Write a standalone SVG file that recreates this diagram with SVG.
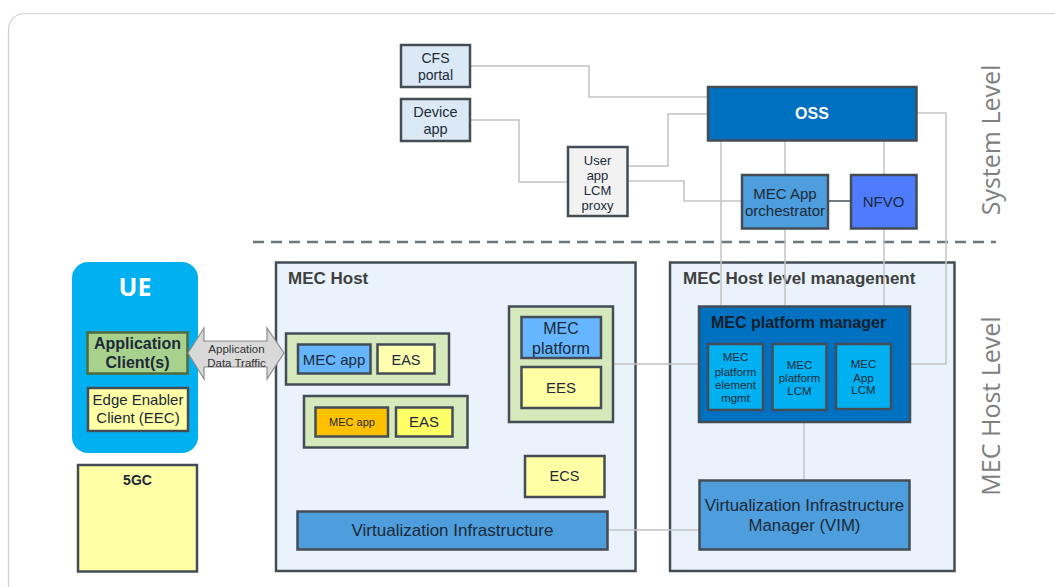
<svg xmlns="http://www.w3.org/2000/svg" width="1055" height="587" viewBox="0 0 1055 587">
<style>
.box{stroke:#444c55;stroke-width:2.5}
.t{font-family:"Liberation Sans",Arial,sans-serif;fill:#1b2a38;text-anchor:middle}
.b{font-weight:bold}
.cn{fill:none;stroke:#c3c3c3;stroke-width:1.5}
.lvl{font-family:"Open Sans","Noto Sans",sans-serif;font-size:25px;fill:#808080;text-anchor:middle}
</style>
<rect x="8.5" y="13.5" width="1100" height="620" rx="16" fill="#ffffff" stroke="#cfcfcf" stroke-width="1.2"/>
<line x1="253" y1="242" x2="996" y2="242" stroke="#6e767e" stroke-width="2.5" stroke-dasharray="11 7"/>
<text class="lvl" transform="translate(1000,140) rotate(-90)">System Level</text>
<text class="lvl" transform="translate(1000,406) rotate(-90)">MEC Host Level</text>

<g id="mec-host">
<rect class="box" x="276" y="262.5" width="359.5" height="308.5" fill="#eaf3fb" stroke-width="2"/>
<text class="t b" x="288" y="284" font-size="17" style="text-anchor:start;fill:#404040">MEC Host</text>
</g>
<g id="mec-host-mgmt">
<rect class="box" x="670" y="262.5" width="284.5" height="308.5" fill="#eaf3fb" stroke-width="2"/>
<text class="t b" x="683" y="284" font-size="17" style="text-anchor:start;fill:#404040">MEC Host level management</text>
</g>

<g id="connectors">
<path class="cn" d="M470,66 H589 V97 H708"/>
<path class="cn" d="M470,120 H519 V182 H567"/>
<path class="cn" d="M628,166 H668 V114 H708"/>
<path class="cn" d="M628,181 H684 V201 H742"/>
<path class="cn" d="M721,141 V306"/>
<path class="cn" d="M785,141 V175"/>
<path class="cn" d="M785,229 V306"/>
<path class="cn" d="M884,141 V175"/>
<path class="cn" d="M884,229 V306"/>
<path class="cn" d="M917,113 H946 V364 H910"/>
<path class="cn" d="M613,364 H699"/>
<path class="cn" d="M804,422 V480"/>
<path class="cn" d="M608,530 H699"/>
<path d="M828,201 H851" fill="none" stroke="#444c55" stroke-width="1.5"/>
</g>

<g id="cfs-portal">
<rect class="box" x="401" y="45" width="69" height="42" fill="#dbe9f7"/>
<text class="t" x="435.5" y="63" font-size="14">CFS</text>
<text class="t" x="435.5" y="80" font-size="14">portal</text>
</g>
<g id="device-app">
<rect class="box" x="401" y="99" width="69" height="42" fill="#dbe9f7"/>
<text class="t" x="435.5" y="117" font-size="14.5">Device</text>
<text class="t" x="435.5" y="134" font-size="14.5">app</text>
</g>
<g id="user-app-lcm-proxy">
<rect class="box" x="568" y="147" width="59.5" height="69" fill="#f2f2f2"/>
<text class="t" x="597.5" y="164.5" font-size="13">User</text>
<text class="t" x="597.5" y="180" font-size="13">app</text>
<text class="t" x="597.5" y="194.5" font-size="13">LCM</text>
<text class="t" x="597.5" y="209.5" font-size="13">proxy</text>
</g>
<g id="oss">
<rect class="box" x="708" y="87" width="208.5" height="53.5" fill="#0070c0"/>
<text class="t b" x="812" y="119" font-size="16" style="fill:#ffffff">OSS</text>
</g>
<g id="mec-app-orchestrator">
<rect class="box" x="742" y="175" width="86" height="53.5" fill="#4e9ddc"/>
<text class="t" x="785" y="198.5" font-size="15">MEC App</text>
<text class="t" x="785" y="216" font-size="15">orchestrator</text>
</g>
<g id="nfvo">
<rect class="box" x="851" y="175" width="65.5" height="53.5" fill="#4f7bff"/>
<text class="t" x="883.5" y="207" font-size="15">NFVO</text>
</g>

<g id="ue">
<rect x="72" y="262" width="126" height="191" rx="16" fill="#00b0f0"/>
<text x="135" y="295.5" font-family="'Open Sans','Noto Sans',sans-serif" font-size="25" font-weight="bold" fill="#ffffff" text-anchor="middle">UE</text>
</g>
<g id="application-clients">
<rect x="87.5" y="332.5" width="100" height="41" fill="#a9d18e" stroke="#4f6b3a" stroke-width="2.5"/>
<text class="t b" x="137.5" y="349" font-size="16">Application</text>
<text class="t b" x="137.5" y="367.5" font-size="16">Client(s)</text>
</g>
<g id="eec">
<rect class="box" x="88" y="388" width="100" height="43" fill="#ffffa6"/>
<text class="t" x="138" y="405" font-size="15">Edge Enabler</text>
<text class="t" x="138" y="423" font-size="15">Client (EEC)</text>
</g>
<g id="app-data-traffic">
<polygon points="188,353 204,328 204,341 267,341 267,328 284,353 267,379 267,367 204,367 204,379" fill="#d9d9d9" stroke="#8c8c8c" stroke-width="1.2"/>
<text class="t" x="236.5" y="353" font-size="11.5" style="fill:#333333">Application</text>
<text class="t" x="236.5" y="366.5" font-size="11.5" style="fill:#333333">Data Traffic</text>
</g>
<g id="5gc">
<rect class="box" x="78" y="465" width="119" height="106.5" fill="#ffffa6"/>
<text class="t b" x="137.5" y="484.5" font-size="14">5GC</text>
</g>

<g id="app-group-1">
<rect class="box" x="286" y="333.5" width="163" height="51" fill="#d6e9bc"/>
<rect class="box" x="298" y="344.5" width="72.5" height="29" fill="#66b5ff"/>
<text class="t" x="334" y="364.5" font-size="15">MEC app</text>
<rect class="box" x="377.5" y="344.5" width="57" height="29" fill="#ffffb0"/>
<text class="t" x="406" y="364.5" font-size="14.5">EAS</text>
</g>
<g id="app-group-2">
<rect class="box" x="304" y="396" width="163.5" height="51.5" fill="#d6e9bc"/>
<rect class="box" x="315.5" y="407.5" width="72.5" height="29" fill="#ffc000"/>
<text class="t" x="352" y="425.5" font-size="11">MEC app</text>
<rect class="box" x="396" y="407.5" width="56.5" height="29" fill="#ffff66"/>
<text class="t" x="424" y="427" font-size="15">EAS</text>
</g>
<g id="mec-platform-group">
<rect class="box" x="509" y="306.5" width="104" height="115.5" fill="#d6e9bc"/>
<rect class="box" x="521.5" y="317" width="79.5" height="41" fill="#66b5ff"/>
<text class="t" x="561" y="334" font-size="16">MEC</text>
<text class="t" x="561" y="353.5" font-size="16">platform</text>
<rect class="box" x="521.5" y="367" width="79.5" height="41" fill="#ffffa6"/>
<text class="t" x="561" y="393" font-size="15">EES</text>
</g>
<g id="ecs">
<rect class="box" x="525" y="456" width="79.5" height="41" fill="#ffffa6"/>
<text class="t" x="564.5" y="481" font-size="14.5">ECS</text>
</g>
<g id="virtualization-infrastructure">
<rect class="box" x="297.5" y="511.5" width="310" height="38" fill="#4e9ddc"/>
<text class="t" x="452.5" y="536" font-size="17">Virtualization Infrastructure</text>
</g>

<g id="mec-platform-manager">
<rect class="box" x="699" y="306.5" width="211" height="115.5" fill="#0070c0"/>
<text class="t b" x="711" y="328" font-size="16" style="text-anchor:start;fill:#14202c">MEC platform manager</text>
</g>
<g id="mec-platform-element-mgmt">
<rect class="box" x="708" y="344" width="55" height="66" fill="#00b0f0"/>
<text class="t" x="735.5" y="361" font-size="11.5">MEC</text>
<text class="t" x="735.5" y="375.5" font-size="11.5">platform</text>
<text class="t" x="735.5" y="388.5" font-size="11.5">element</text>
<text class="t" x="735.5" y="402" font-size="11.5">mgmt</text>
</g>
<g id="mec-platform-lcm">
<rect class="box" x="772.5" y="344" width="54" height="66" fill="#00b0f0"/>
<text class="t" x="799.5" y="368.5" font-size="11.5">MEC</text>
<text class="t" x="799.5" y="381.5" font-size="11.5">platform</text>
<text class="t" x="799.5" y="394.5" font-size="11.5">LCM</text>
</g>
<g id="mec-app-lcm">
<rect class="box" x="836" y="344" width="55" height="65" fill="#00b0f0"/>
<text class="t" x="863.5" y="367.5" font-size="11.5">MEC</text>
<text class="t" x="863.5" y="381.5" font-size="11.5">App</text>
<text class="t" x="863.5" y="394" font-size="11.5">LCM</text>
</g>
<g id="vim">
<rect class="box" x="699.5" y="480.5" width="210" height="69" fill="#4e9ddc"/>
<text class="t" x="804.5" y="511" font-size="16.8">Virtualization Infrastructure</text>
<text class="t" x="804.5" y="530.5" font-size="16.8">Manager (VIM)</text>
</g>
</svg>
